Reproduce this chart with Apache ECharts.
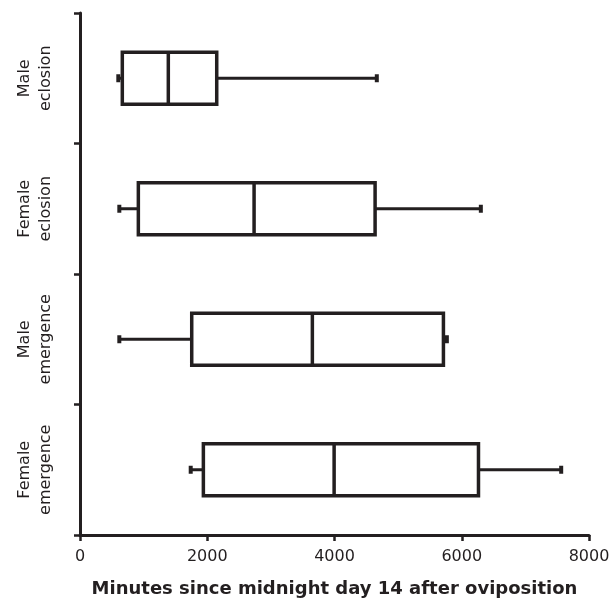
<!DOCTYPE html>
<html>
<head>
<meta charset="utf-8">
<script src="https://cdn.jsdelivr.net/npm/echarts@6/dist/echarts.min.js"></script>
<style>
  html, body { margin: 0; padding: 0; background: #fff; }
  #chart { width: 613px; height: 603px; }
</style>
</head>
<body>
<div id="chart"></div>
<script>
// categories, top to bottom
const categories = ['Male\neclosion', 'Female\neclosion', 'Male\nemergence', 'Female\nemergence'];
// five-number summaries in minutes
const minValues    = [602, 618, 618, 1740];
const q1Values     = [665, 917, 1756, 1939];
const medianValues = [1388, 2736, 3652, 3994];
const q3Values     = [2149, 4638, 5712, 6263];
const maxValues    = [4665, 6300, 5766, 7563];
const xTicks = [0, 2000, 4000, 6000, 8000];

const ink = '#231f20';

const boxData = categories.map((c, i) => [i, minValues[i], q1Values[i], medianValues[i], q3Values[i], maxValues[i]]);

function renderItem(params, api) {
  const cat = api.value(0);
  const pMin = api.coord([api.value(1), cat]);
  const pQ1 = api.coord([api.value(2), cat]);
  const pMed = api.coord([api.value(3), cat]);
  const pQ3 = api.coord([api.value(4), cat]);
  const pMax = api.coord([api.value(5), cat]);
  const y = pMed[1];
  const h = api.size([0, 1])[1] * 0.4;
  const capH = 8;
  const line = { stroke: ink, lineWidth: 3 };
  return {
    type: 'group',
    children: [
      { type: 'line', shape: { x1: pMin[0], y1: y, x2: pQ1[0], y2: y }, style: line },
      { type: 'line', shape: { x1: pQ3[0], y1: y, x2: pMax[0], y2: y }, style: line },
      { type: 'rect', shape: { x: pMin[0] - 2, y: y - capH / 2, width: 4, height: capH }, style: { fill: ink } },
      { type: 'rect', shape: { x: pMax[0] - 2, y: y - capH / 2, width: 4, height: capH }, style: { fill: ink } },
      { type: 'rect', shape: { x: pQ1[0], y: y - h / 2, width: pQ3[0] - pQ1[0], height: h },
        style: { fill: '#fff', stroke: ink, lineWidth: 3.5 } },
      { type: 'line', shape: { x1: pMed[0], y1: y - h / 2, x2: pMed[0], y2: y + h / 2 },
        style: { stroke: ink, lineWidth: 3.5 } }
    ]
  };
}

const chart = echarts.init(document.getElementById('chart'));
chart.setOption({
  animation: false,
  grid: { left: 80, right: 24, top: 13, bottom: 65 },
  xAxis: {
    type: 'value',
    min: xTicks[0],
    max: xTicks[xTicks.length - 1],
    interval: 2000,
    name: 'Minutes since midnight day 14 after oviposition',
    nameLocation: 'middle',
    nameGap: 45,
    nameTextStyle: { fontFamily: 'DejaVu Sans', fontSize: 18, fontWeight: 'bold', color: ink },
    axisLine: { show: true, lineStyle: { color: ink, width: 3 } },
    axisTick: { show: true, length: 6, lineStyle: { color: ink, width: 2.5 } },
    axisLabel: { fontFamily: 'DejaVu Sans', fontSize: 16, color: ink, margin: 14, formatter: v => String(v) },
    splitLine: { show: false }
  },
  yAxis: {
    type: 'category',
    inverse: true,
    data: categories,
    boundaryGap: true,
    axisLine: { show: true, lineStyle: { color: ink, width: 3 } },
    axisTick: { show: true, length: 6, lineStyle: { color: ink, width: 2.5 } },
    axisLabel: { rotate: 90, fontFamily: 'DejaVu Sans', fontSize: 16, lineHeight: 21, color: ink, margin: 24 },
    splitLine: { show: false }
  },
  series: [{
    type: 'custom',
    renderItem: renderItem,
    encode: { x: [1, 2, 3, 4, 5], y: 0 },
    data: boxData
  }]
});
</script>
</body>
</html>
